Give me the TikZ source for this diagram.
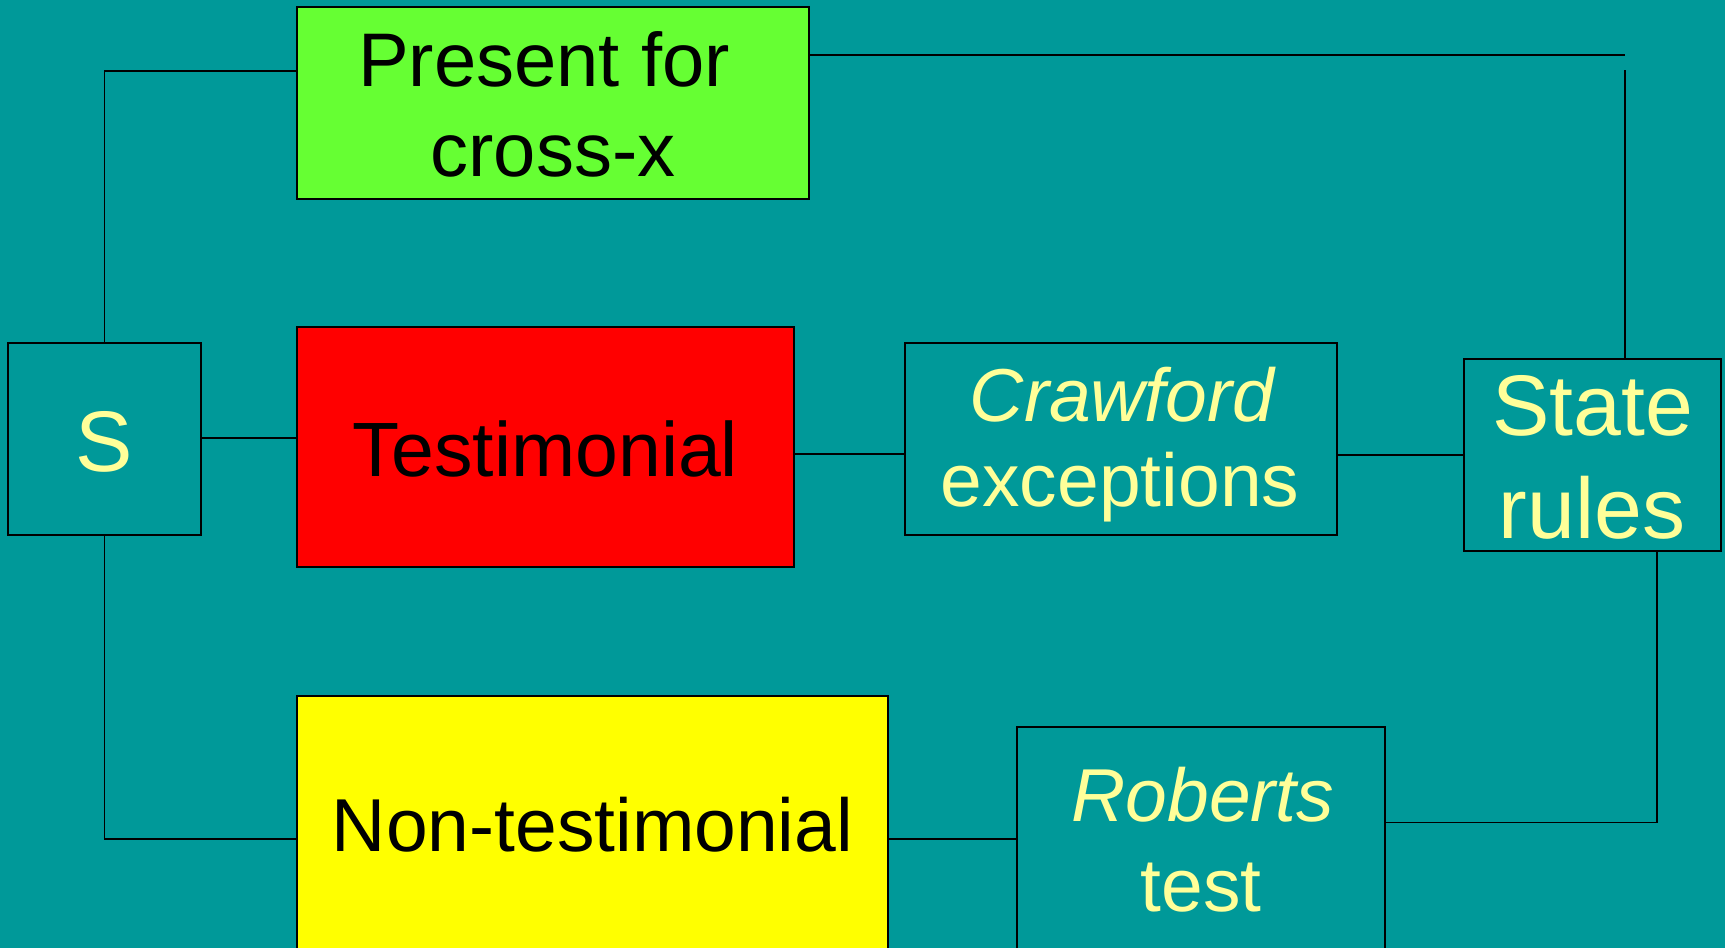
\documentclass[tikz,border=0pt]{standalone}
\usepackage{fontspec}
\setmainfont{Liberation Sans}
\definecolor{bg}{RGB}{0,153,153}
\definecolor{boxgreen}{RGB}{102,255,51}
\definecolor{boxred}{RGB}{255,0,0}
\definecolor{boxyellow}{RGB}{255,255,0}
\definecolor{txtyellow}{RGB}{255,255,153}
\begin{document}
\begin{tikzpicture}[x=1pt,y=-1pt,
  box/.style={draw=black,line width=1.2pt,inner sep=0pt},
  conn/.style={draw=black,line width=1.2pt},
  ytxt/.style={anchor=base,inner sep=0pt,text=txtyellow},
  btxt/.style={anchor=base,inner sep=0pt,text=black}]
\fill[bg] (0,0) rectangle (1725,948);
\useasboundingbox (0,0) rectangle (1725,948);

% connectors
\coordinate (e1) at (1625,55);
\coordinate (e2) at (1625,70);
\coordinate (k) at (1657,822.5);

% boxes
\node[box,fill=bg,minimum width=193pt,minimum height=192pt] (S) at (104.5,439) {};
\node[box,fill=boxgreen,minimum width=512pt,minimum height=192pt] (PR) at (553,103) {};
\node[box,fill=boxred,minimum width=497pt,minimum height=240pt] (TE) at (545.5,447) {};
\node[box,fill=bg,minimum width=432pt,minimum height=192pt] (CR) at (1121,439) {};
\node[box,fill=bg,minimum width=257pt,minimum height=192pt] (SR) at (1592.5,455) {};
\node[box,fill=boxyellow,minimum width=591pt,minimum height=304pt] (NT) at (592.5,848) {};
\node[box,fill=bg,minimum width=368pt,minimum height=273pt] (RB) at (1201,863.5) {};

\draw[conn] (S.north) |- (PR.west |- 0,71);
\draw[conn] (S.east |- 0,438) -- (TE.west |- 0,438);
\draw[conn] (S.south) |- (NT.west |- 0,839);
\draw[conn] (TE.east |- 0,454) -- (CR.west |- 0,454);
\draw[conn] (CR.east |- 0,455) -- (SR.west |- 0,455);
\draw[conn] (PR.east |- e1) -- (e1);
\draw[conn] (e2) -- (SR.north -| e2);
\draw[conn] (SR.south -| k) -- (k) -- (RB.east |- k);
\draw[conn] (NT.east |- 0,839) -- (RB.west |- 0,839);

% texts
\node[ytxt,font=\fontsize{86}{100}\selectfont] (tS) at (104.5,471) {S};
\node[btxt,font=\fontsize{76}{90}\selectfont] (tP1) at (544,86.7) {Present for};
\node[btxt,font=\fontsize{76}{90}\selectfont] (tP2) at (553,176.7) {cross-x};
\node[btxt,font=\fontsize{77}{90}\selectfont] (tT) at (545.5,476) {Testimonial};
\node[ytxt,font=\fontsize{75}{90}\selectfont\itshape] (tC1) at (1122,421.7) {Crawford};
\node[ytxt,font=\fontsize{75}{90}\selectfont] (tC2) at (1120,506.7) {exceptions};
\node[ytxt,font=\fontsize{86}{100}\selectfont] (tS1) at (1593,435) {State};
\node[ytxt,font=\fontsize{86}{100}\selectfont] (tS2) at (1592,538) {rules};
\node[btxt,font=\fontsize{75}{90}\selectfont] (tN) at (592.5,851) {Non-testimonial};
\node[ytxt,font=\fontsize{75}{90}\selectfont\itshape] (tR1) at (1203,821.7) {Roberts};
\node[ytxt,font=\fontsize{75}{90}\selectfont] (tR2) at (1201,911.7) {test};
\end{tikzpicture}
\end{document}
